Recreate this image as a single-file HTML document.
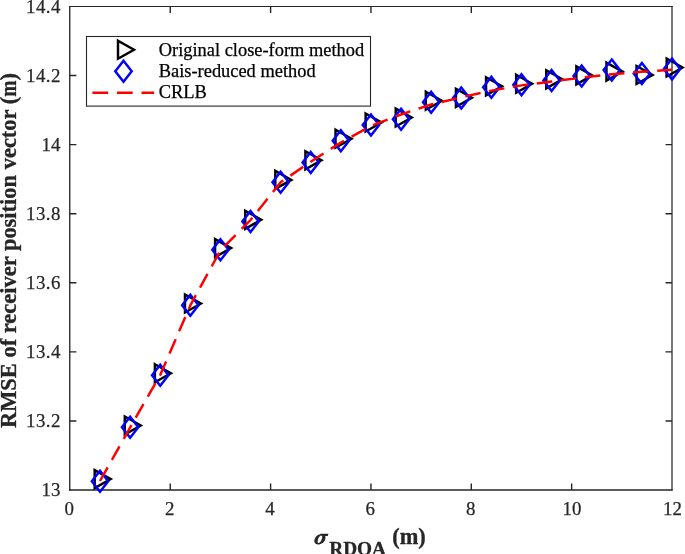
<!DOCTYPE html>
<html><head><meta charset="utf-8"><title>RMSE chart</title>
<style>html,body{margin:0;padding:0;background:#fff}svg{display:block;will-change:transform}text{font-family:"Liberation Serif",serif;fill:#262626}</style></head><body>
<svg width="685" height="554" viewBox="0 0 685 554">
<rect width="685" height="554" fill="#fff"/>
<g stroke="#262626" stroke-width="1.4" fill="none">
<path d="M69.75 5.95V490.7" stroke-width="1.35"/><path d="M672.0 5.95V490.7" stroke-width="1.25"/><path d="M69.10000000000001 6.5H672.6" stroke-width="1.15"/><path d="M69.10000000000001 490.0H672.6" stroke-width="1.4"/>
<path d="M170.25 490.0V483.5M170.25 6.5V13.0"/>
<path d="M270.60 490.0V483.5M270.60 6.5V13.0"/>
<path d="M370.95 490.0V483.5M370.95 6.5V13.0"/>
<path d="M471.30 490.0V483.5M471.30 6.5V13.0"/>
<path d="M571.65 490.0V483.5M571.65 6.5V13.0"/>
<path d="M69.9 420.93H76.4M672.0 420.93H665.5"/>
<path d="M69.9 351.86H76.4M672.0 351.86H665.5"/>
<path d="M69.9 282.79H76.4M672.0 282.79H665.5"/>
<path d="M69.9 213.71H76.4M672.0 213.71H665.5"/>
<path d="M69.9 144.64H76.4M672.0 144.64H665.5"/>
<path d="M69.9 75.57H76.4M672.0 75.57H665.5"/>
</g>
<g font-size="18.9" stroke="#262626" stroke-width="0.25">
<text x="69.30" y="515.2" text-anchor="middle">0</text>
<text x="169.65" y="515.2" text-anchor="middle">2</text>
<text x="270.00" y="515.2" text-anchor="middle">4</text>
<text x="370.35" y="515.2" text-anchor="middle">6</text>
<text x="470.70" y="515.2" text-anchor="middle">8</text>
<text x="572.05" y="515.2" text-anchor="middle">10</text>
<text x="672.40" y="515.2" text-anchor="middle">12</text>
<text x="60.5" y="496.20" text-anchor="end">13</text>
<text x="60.95" y="427.13" text-anchor="end" letter-spacing="0.45">13.2</text>
<text x="60.95" y="358.06" text-anchor="end" letter-spacing="0.45">13.4</text>
<text x="60.95" y="288.99" text-anchor="end" letter-spacing="0.45">13.6</text>
<text x="60.95" y="219.91" text-anchor="end" letter-spacing="0.45">13.8</text>
<text x="60.5" y="150.84" text-anchor="end">14</text>
<text x="60.95" y="81.77" text-anchor="end" letter-spacing="0.45">14.2</text>
<text x="60.95" y="12.70" text-anchor="end" letter-spacing="0.45">14.4</text>
</g>
<text transform="translate(16.0 250.6) rotate(-90)" text-anchor="middle" font-size="22.47" font-weight="bold" stroke="#262626" stroke-width="0.3">RMSE of receiver position vector (<tspan textLength="16.2" lengthAdjust="spacingAndGlyphs">m</tspan>)</text>
<g fill="#262626"><g transform="translate(319.9 539.25) skewX(-14)"><path fill-rule="evenodd" d="M-5.3 0.3C-5.3 -3.2 -2.6 -5.35 0.6 -5.35C3.6 -5.35 5.3 -3.3 5.3 -0.3C5.3 2.9 2.9 5.2 -0.5 5.2C-3.5 5.2 -5.3 3.2 -5.3 0.3ZM-1.9 0.9C-1.9 2.6 -1.3 3.7 -0.3 3.7C1.1 3.7 1.9 1.5 1.9 -0.9C1.9 -2.7 1.4 -3.75 0.3 -3.75C-1.1 -3.75 -1.9 -1.4 -1.9 0.9Z"/></g><path d="M320.3 533.85H328.45L327.75 535.9H322.5Z"/></g>
<text x="329.25" y="554.9" font-size="19.3" font-weight="bold" stroke="#262626" stroke-width="0.3">RDOA</text>
<text x="392.2" y="543.5" font-size="22.4" font-weight="bold" stroke="#262626" stroke-width="0.3">(m)</text>
<g fill="none" stroke="#000" stroke-width="2.45" stroke-linejoin="miter">
<path d="M94.68 470.10L110.68 479.10L94.68 488.10Z"/>
<path d="M124.78 416.50L140.78 425.50L124.78 434.50Z"/>
<path d="M154.88 364.20L170.88 373.20L154.88 382.20Z"/>
<path d="M184.99 294.50L200.99 303.50L184.99 312.50Z"/>
<path d="M215.09 239.10L231.09 248.10L215.09 257.10Z"/>
<path d="M245.20 210.80L261.20 219.80L245.20 228.80Z"/>
<path d="M275.31 170.90L291.31 179.90L275.31 188.90Z"/>
<path d="M305.41 151.30L321.41 160.30L305.41 169.30Z"/>
<path d="M335.52 129.70L351.52 138.70L335.52 147.70Z"/>
<path d="M365.62 113.50L381.62 122.50L365.62 131.50Z"/>
<path d="M395.73 108.50L411.73 117.50L395.73 126.50Z"/>
<path d="M425.83 91.70L441.83 100.70L425.83 109.70Z"/>
<path d="M455.94 88.80L471.94 97.80L455.94 106.80Z"/>
<path d="M486.04 77.30L502.04 86.30L486.04 95.30Z"/>
<path d="M516.14 74.70L532.14 83.70L516.14 92.70Z"/>
<path d="M546.25 70.30L562.25 79.30L546.25 88.30Z"/>
<path d="M576.36 66.40L592.36 75.40L576.36 84.40Z"/>
<path d="M606.46 62.60L622.46 71.60L606.46 80.60Z"/>
<path d="M636.56 66.00L652.56 75.00L636.56 84.00Z"/>
<path d="M666.67 58.50L682.67 67.50L666.67 76.50Z"/>
</g>
<g fill="none" stroke="#0000ff" stroke-width="2.45" stroke-linejoin="miter">
<path d="M100.01 470.70L108.21 481.20L100.01 491.70L91.81 481.20Z"/>
<path d="M130.11 416.70L138.31 427.20L130.11 437.70L121.91 427.20Z"/>
<path d="M160.22 364.70L168.41 375.20L160.22 385.70L152.02 375.20Z"/>
<path d="M190.32 294.70L198.52 305.20L190.32 315.70L182.12 305.20Z"/>
<path d="M220.43 239.30L228.62 249.80L220.43 260.30L212.23 249.80Z"/>
<path d="M250.53 211.00L258.73 221.50L250.53 232.00L242.33 221.50Z"/>
<path d="M280.63 171.70L288.83 182.20L280.63 192.70L272.44 182.20Z"/>
<path d="M310.74 152.00L318.94 162.50L310.74 173.00L302.54 162.50Z"/>
<path d="M340.85 130.20L349.05 140.70L340.85 151.20L332.65 140.70Z"/>
<path d="M370.95 114.50L379.15 125.00L370.95 135.50L362.75 125.00Z"/>
<path d="M401.06 108.80L409.26 119.30L401.06 129.80L392.86 119.30Z"/>
<path d="M431.16 91.70L439.36 102.20L431.16 112.70L422.96 102.20Z"/>
<path d="M461.26 87.60L469.46 98.10L461.26 108.60L453.06 98.10Z"/>
<path d="M491.37 76.70L499.57 87.20L491.37 97.70L483.17 87.20Z"/>
<path d="M521.48 74.30L529.68 84.80L521.48 95.30L513.27 84.80Z"/>
<path d="M551.58 70.10L559.78 80.60L551.58 91.10L543.38 80.60Z"/>
<path d="M581.69 65.40L589.89 75.90L581.69 86.40L573.49 75.90Z"/>
<path d="M611.79 59.50L619.99 70.00L611.79 80.50L603.59 70.00Z"/>
<path d="M641.89 63.10L650.10 73.60L641.89 84.10L633.69 73.60Z"/>
<path d="M672.00 58.60L680.20 69.10L672.00 79.60L663.80 69.10Z"/>
</g>
<polyline points="100.01,481.00 130.11,427.50 160.22,375.00 190.32,305.40 220.43,250.40 250.53,220.00 280.63,182.30 310.74,161.70 340.85,142.50 370.95,126.00 401.06,114.50 431.16,104.50 461.26,97.30 491.37,90.60 521.48,85.40 551.58,81.50 581.69,77.70 611.79,74.20 641.89,71.80 672.00,69.80" fill="none" stroke="#ff0000" stroke-width="2.45" stroke-dasharray="15.6 8.62" stroke-linejoin="round"/>
<rect x="86.5" y="36.5" width="284.0" height="69.6" fill="#fff" stroke="#262626" stroke-width="1.1"/>
<g fill="none" stroke="#000" stroke-width="2.45"><path d="M118.00 40.70L134.00 49.70L118.00 58.70Z"/></g>
<g fill="none" stroke="#0000ff" stroke-width="2.45"><path d="M123.50 60.80L131.70 71.30L123.50 81.80L115.30 71.30Z"/></g>
<path d="M92.4 92.7H154.1" fill="none" stroke="#ff0000" stroke-width="2.45" stroke-dasharray="15.7 8.85"/>
<g font-size="18.4" fill="#000" stroke="#000" stroke-width="0.25">
<text x="158.8" y="55.6" style="fill:#000">Original close-form method</text>
<text x="158.8" y="77.0" style="fill:#000">Bais-reduced method</text>
<text x="158.8" y="98.2" style="fill:#000">CRLB</text>
</g>
</svg></body></html>
